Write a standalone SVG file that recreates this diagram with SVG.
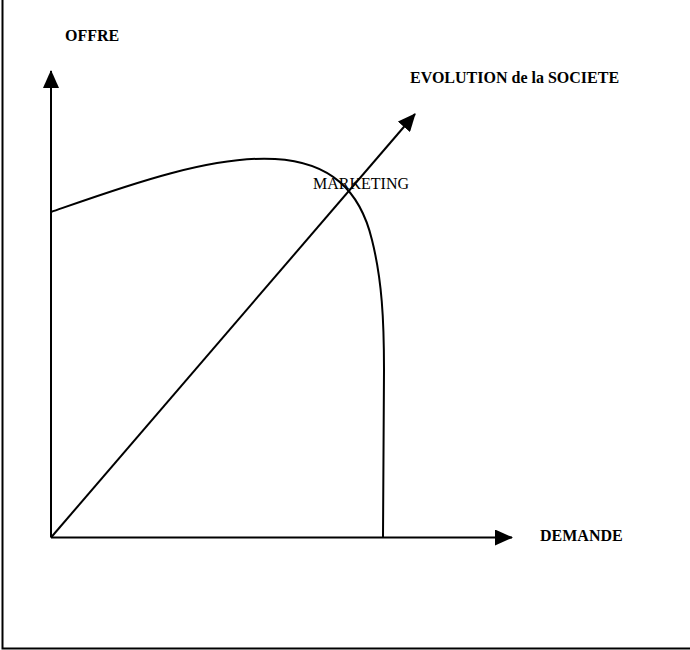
<svg xmlns="http://www.w3.org/2000/svg" width="690" height="650" viewBox="0 0 690 650">
  <style>
    .ln { fill: none; stroke: #000; stroke-width: 2; }
    .lbl { font-family: "Liberation Serif", "Times New Roman", serif; font-size: 16px; fill: #000; }
    .b { font-weight: bold; }
  </style>
  <defs>
    <marker id="arr" viewBox="0 0 18 16" refX="17" refY="8" markerWidth="18" markerHeight="16" markerUnits="userSpaceOnUse" orient="auto">
      <path d="M0,0 L18,8 L0,16 Z" fill="#000"/>
    </marker>
  </defs>
  <rect width="690" height="650" fill="#fff"/>
  <g id="frame">
    <path class="ln" d="M2.5,-2 L2.5,648.5 L692,648.5"/>
  </g>
  <g id="connectors">
    <line class="ln" x1="51" y1="537.5" x2="51" y2="71" marker-end="url(#arr)"/>
    <line class="ln" x1="51" y1="537.5" x2="512" y2="537.5" marker-end="url(#arr)"/>
    <line class="ln" x1="51" y1="537.5" x2="415" y2="114" marker-end="url(#arr)"/>
  </g>
  <g id="curve">
    <path class="ln" d="M51,212 C120,188 210,155 275,159 C330,162 360,190 372,240 C382,280 384,320 384,370 L383,537.5"/>
  </g>
  <g id="labels">
    <text class="lbl b" x="65" y="41">OFFRE</text>
    <text class="lbl b" x="410" y="83">EVOLUTION de la SOCIETE</text>
    <text class="lbl" x="313" y="189">MARKETING</text>
    <text class="lbl b" x="540" y="541">DEMANDE</text>
  </g>
</svg>
